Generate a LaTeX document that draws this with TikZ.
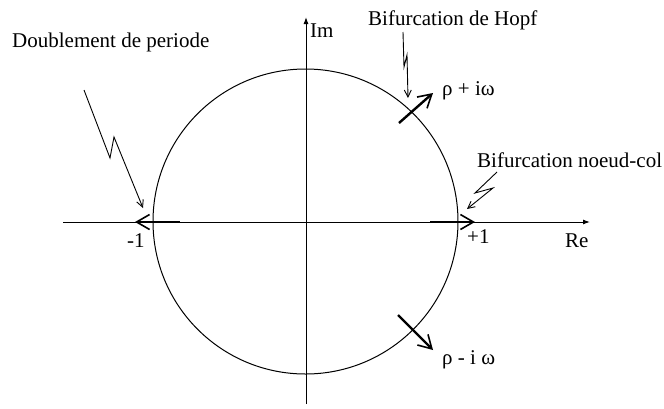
\documentclass[tikz,border=0pt]{standalone}
\usepackage{fontspec}
\setmainfont{Liberation Serif}
\usetikzlibrary{arrows.meta}
\tikzset{
    axisline/.style={line width=1pt, -{Latex[length=7pt,width=5pt]}},
    unitcircle/.style={line width=1pt},
    zigarrow/.style={line width=0.9pt, -{Straight Barb[length=7pt,width=7pt,line width=0.9pt]}},
    eigarrow/.style={line width=2.4pt, -{Straight Barb[length=13pt,width=15pt,line width=1.6pt]}},
    lbl/.style={font=\fontsize{21}{25}\selectfont, inner sep=0pt, anchor=base west},
}
\begin{document}
\begin{tikzpicture}[x=1pt, y=-1pt]
    \useasboundingbox (0,0) rectangle (664,408);
    % axes and unit circle
    \coordinate (origin) at (305.5,221.5);
    \coordinate (reL) at (63,222);
    \coordinate (reR) at (590,222);
    \coordinate (imB) at (306,404);
    \coordinate (imT) at (306,17);
    \draw[axisline] (reL) -- (reR);
    \draw[axisline] (imB) -- (imT);
    \draw[unitcircle] (origin) circle[radius=152.5];
    % labels
    \node[lbl] (dbl) at (12,47) {Doublement de periode};
    \node[lbl] (im) at (310,37) {Im};
    \node[lbl] (hopf) at (368,25) {Bifurcation de Hopf};
    \node[lbl] (ncol) at (477,167) {Bifurcation noeud-col};
    \node[lbl] (rhoplus) at (442,95) {ρ + iω};
    \node[lbl] (rhominus) at (442,364) {ρ - i ω};
    \node[lbl] (mone) at (127,247) {-1};
    \node[lbl] (pone) at (467,243) {+1};
    \node[lbl] (re) at (565,247) {Re};
    % eigenvalues leaving the circle
    \coordinate (m1a) at (180,222);
    \coordinate (m1b) at (135,222);
    \coordinate (p1a) at (430,222);
    \coordinate (p1b) at (475,222);
    \coordinate (upa) at (399,123);
    \coordinate (upb) at (433,93);
    \coordinate (dna) at (398,315);
    \coordinate (dnb) at (433,350);
    \draw[eigarrow] (m1a) -- (m1b);
    \draw[eigarrow] (p1a) -- (p1b);
    \draw[eigarrow] (upa) -- (upb);
    \draw[eigarrow] (dna) -- (dnb);
    % lightning pointers
    \coordinate (z1a) at (84,90);
    \coordinate (z1b) at (110,158);
    \coordinate (z1c) at (114,137);
    \coordinate (z1d) at (143,208);
    \draw[zigarrow] (z1a) -- (z1b) -- (z1c) -- (z1d);
    \coordinate (z2a) at (403,32);
    \coordinate (z2b) at (404,67);
    \coordinate (z2c) at (407,55);
    \coordinate (z2d) at (408,98);
    \draw[zigarrow] (z2a) -- (z2b) -- (z2c) -- (z2d);
    \coordinate (z3a) at (497,172);
    \coordinate (z3b) at (475,193);
    \coordinate (z3c) at (493,188);
    \coordinate (z3d) at (467,209);
    \draw[zigarrow] (z3a) -- (z3b) -- (z3c) -- (z3d);
\end{tikzpicture}
\end{document}
